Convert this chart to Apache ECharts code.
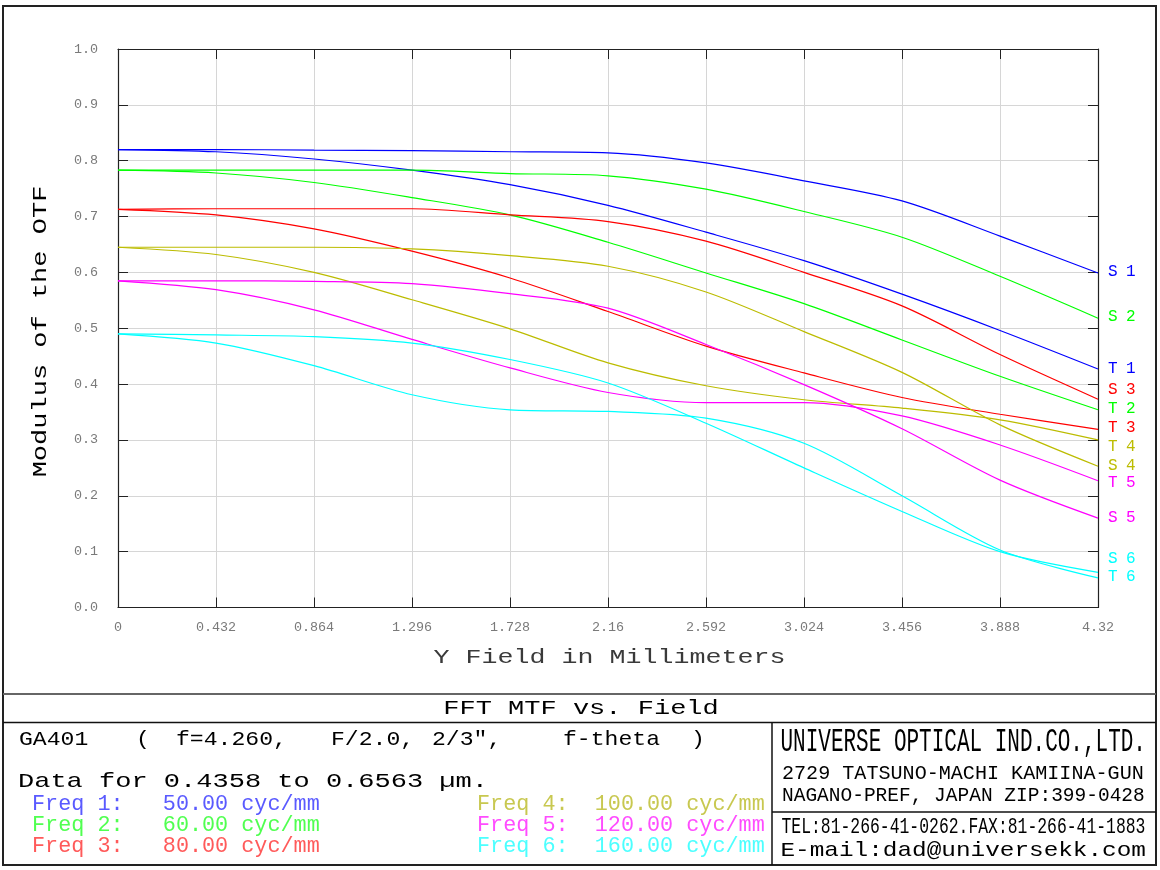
<!DOCTYPE html>
<html><head><meta charset="utf-8">
<script src="https://cdn.jsdelivr.net/npm/echarts@6/dist/echarts.min.js"></script>
<style>html,body{margin:0;padding:0;background:#fff}#c{width:1160px;height:870px}</style>
</head><body><div id="c"></div>
<script>
// ---------- data ----------
const fieldMm = [0, 0.432, 0.864, 1.296, 1.728, 2.16, 2.592, 3.024, 3.456, 3.888, 4.32];
const xTickLabels = ['0','0.432','0.864','1.296','1.728','2.16','2.592','3.024','3.456','3.888','4.32'];
const yTickLabels = ['0.0','0.1','0.2','0.3','0.4','0.5','0.6','0.7','0.8','0.9','1.0'];

const S1 = [0.820, 0.820, 0.819, 0.818, 0.816, 0.814, 0.796, 0.764, 0.728, 0.665, 0.599];
const T1 = [0.820, 0.816, 0.803, 0.783, 0.757, 0.720, 0.672, 0.621, 0.561, 0.496, 0.427];
const S2 = [0.783, 0.783, 0.783, 0.783, 0.777, 0.773, 0.749, 0.709, 0.663, 0.593, 0.518];
const T2 = [0.783, 0.778, 0.761, 0.734, 0.703, 0.654, 0.599, 0.544, 0.479, 0.414, 0.354];
const S3 = [0.713, 0.714, 0.714, 0.714, 0.703, 0.691, 0.656, 0.600, 0.540, 0.453, 0.373];
const T3 = [0.713, 0.703, 0.678, 0.638, 0.590, 0.530, 0.468, 0.420, 0.376, 0.346, 0.319];
const S4 = [0.645, 0.645, 0.645, 0.642, 0.630, 0.611, 0.565, 0.494, 0.421, 0.327, 0.253];
const T4 = [0.645, 0.632, 0.600, 0.551, 0.499, 0.438, 0.397, 0.372, 0.357, 0.336, 0.300];
const S5 = [0.585, 0.585, 0.584, 0.580, 0.562, 0.536, 0.471, 0.399, 0.320, 0.228, 0.160];
const T5 = [0.585, 0.569, 0.533, 0.480, 0.429, 0.385, 0.367, 0.367, 0.343, 0.291, 0.227];
const S6 = [0.490, 0.488, 0.485, 0.4735, 0.444, 0.402, 0.330, 0.250, 0.172, 0.100, 0.063];
const T6 = [0.490, 0.4735, 0.433, 0.381, 0.354, 0.351, 0.339, 0.294, 0.200, 0.103, 0.053];

const curveNames = ['S1','T1','S2','T2','S3','T3','S4','T4','S5','T5','S6','T6'];
const curveValues = [S1,T1,S2,T2,S3,T3,S4,T4,S5,T5,S6,T6];

const freqNames = ['Freq 1:','Freq 2:','Freq 3:','Freq 4:','Freq 5:','Freq 6:'];
const freqValues = ['50.00 cyc/mm','60.00 cyc/mm','80.00 cyc/mm','100.00 cyc/mm','120.00 cyc/mm','160.00 cyc/mm'];

// ---------- styles ----------
const lineColors = ['#0000ff','#00ff00','#ff0000','#bcbc00','#ff00ff','#00ffff'];
const freqTextColors = ['#5a5aff','#50ff50','#ff5a5a','#c8c850','#ff4cff','#4cffff'];
const labelDy = {S1:-1,T1:0,S2:-1,T2:-1,S3:-9,T3:-2,S4:0,T4:7,S5:0,T5:2,S6:-14,T6:-1};
const MONO = '"Liberation Mono", "DejaVu Sans Mono", monospace';

const series = curveNames.map((name, i) => ({
  name, type: 'line', xAxisIndex: 0, yAxisIndex: 0,
  showSymbol: false, smooth: 0.3, animation: false,
  data: fieldMm.map((x, k) => [x, curveValues[i][k]]),
  lineStyle: { width: 1.2, color: lineColors[Math.floor(i / 2)] },
  itemStyle: { color: lineColors[Math.floor(i / 2)] },
  endLabel: {
    show: true, offset: [2, labelDy[name]],
    color: lineColors[Math.floor(i / 2)],
    fontFamily: MONO, fontSize: 16,
    formatter: () => `{k|${name[0]}}{n|${name[1]}}`,
    rich: {
      k: { width: 18, fontFamily: MONO, fontSize: 16, color: lineColors[Math.floor(i / 2)] },
      n: { fontFamily: MONO, fontSize: 16, color: lineColors[Math.floor(i / 2)] }
    }
  }
}));

function txt(text, x, y, o) {
  o = o || {};
  return {
    type: 'text', x, y, scaleX: o.sx || 1, scaleY: o.sy || 1, rotation: o.rot || 0, silent: true,
    style: {
      text, x: 0, y: 0, fill: o.color || '#000',
      font: `${o.size || 20}px ${MONO}`,
      align: o.align || 'left', textAlign: o.align || 'left',
      verticalAlign: 'middle', textVerticalAlign: 'middle'
    }
  };
}
function ln(x1, y1, x2, y2, w, c) {
  return { type: 'line', silent: true, shape: { x1, y1, x2, y2 }, style: { stroke: c || '#222', lineWidth: w || 1 } };
}

const graphics = [
  { type: 'rect', silent: true, shape: { x: 3, y: 6, width: 1153, height: 859 }, style: { fill: 'none', stroke: '#222', lineWidth: 2 } },
  ln(3, 694, 1156, 694, 2, '#666'),
  ln(3, 722.5, 1156, 722.5, 1.5, '#111'),
  ln(772, 722.5, 772, 865, 1.5, '#111'),
  ln(772, 812, 1156, 812, 1.5, '#111'),
  // axis titles
  txt('Modulus of the OTF', 40, 331.5, { size: 21, sx: 1.286, rot: Math.PI / 2, align: 'center' }),
  txt('Y Field in Millimeters', 609.5, 657, { size: 21, sx: 1.27, align: 'center', color: '#3a3a3a' }),
  // title block
  txt('FFT MTF vs. Field', 581, 708, { size: 21, sx: 1.286, align: 'center' }),
  txt('GA401', 19, 739.5, { size: 21, sx: 1.1 }),
  txt('(', 136, 739.5, { size: 21, sx: 1.1 }),
  txt('f=4.260,', 176, 739.5, { size: 21, sx: 1.1 }),
  txt('F/2.0,', 331, 739.5, { size: 21, sx: 1.1 }),
  txt('2/3",', 432, 739.5, { size: 21, sx: 1.1 }),
  txt('f-theta', 563, 739.5, { size: 21, sx: 1.1 }),
  txt(')', 691, 739.5, { size: 21, sx: 1.1 }),
  txt('Data for 0.4358 to 0.6563 \u00b5m.', 18, 781.5, { size: 21, sx: 1.286 }),
  // company block
  txt('UNIVERSE OPTICAL IND.CO.,LTD.', 780.5, 742.5, { size: 21, sy: 1.55 }),
  txt('2729 TATSUNO-MACHI KAMIINA-GUN', 782, 774, { size: 20.1, sy: 1.01 }),
  txt('NAGANO-PREF, JAPAN ZIP:399-0428', 782, 795.7, { size: 19.5, sy: 1.04 }),
  txt('TEL:81-266-41-0262.FAX:81-266-41-1883', 781.5, 827, { size: 16.4, sy: 1.39 }),
  txt('E-mail:dad@universekk.com', 780.5, 850, { size: 21, sx: 1.16 })
];
const freqX = [32, 32, 32, 477, 477, 477];
const freqY = [804, 825.5, 846, 804, 825.5, 846];
freqNames.forEach((n, i) => {
  const pad = i < 3 ? '   ' : '  ';
  graphics.push(txt(n + pad + freqValues[i], freqX[i], freqY[i], { size: 21.8, color: freqTextColors[i] }));
});

const tickStyle = { show: true, inside: true, length: 10, lineStyle: { color: '#222', width: 1 } };
const axisLineStyle = { show: true, onZero: false, lineStyle: { color: '#222', width: 1.2 } };
const labelStyle = { fontFamily: MONO, fontSize: 13.4, color: '#7a7a7a' };

const option = {
  animation: false,
  backgroundColor: '#fff',
  grid: { left: 118, top: 49, width: 980, height: 558.5, containLabel: false },
  xAxis: [
    {
      type: 'value', position: 'bottom', min: 0, max: 4.32, interval: 0.432,
      axisLine: axisLineStyle, axisTick: tickStyle,
      axisLabel: Object.assign({ margin: 13, formatter: v => xTickLabels[Math.round(v / 0.432)] }, labelStyle),
      splitLine: { show: true, lineStyle: { color: '#d6d6d6', width: 1 } }
    },
    {
      type: 'value', position: 'top', min: 0, max: 4.32, interval: 0.432,
      axisLine: axisLineStyle, axisTick: tickStyle, axisLabel: { show: false }, splitLine: { show: false }
    }
  ],
  yAxis: [
    {
      type: 'value', position: 'left', min: 0, max: 1, interval: 0.1,
      axisLine: axisLineStyle, axisTick: tickStyle,
      axisLabel: Object.assign({ margin: 20, formatter: v => yTickLabels[Math.round(v * 10)] }, labelStyle),
      splitLine: { show: true, lineStyle: { color: '#d6d6d6', width: 1 } }
    },
    {
      type: 'value', position: 'right', min: 0, max: 1, interval: 0.1,
      axisLine: axisLineStyle, axisTick: tickStyle, axisLabel: { show: false }, splitLine: { show: false }
    }
  ],
  series,
  graphic: { elements: graphics }
};
const chart = echarts.init(document.getElementById('c'), null, { renderer: 'canvas' });
chart.setOption(option);
</script>
</body></html>
